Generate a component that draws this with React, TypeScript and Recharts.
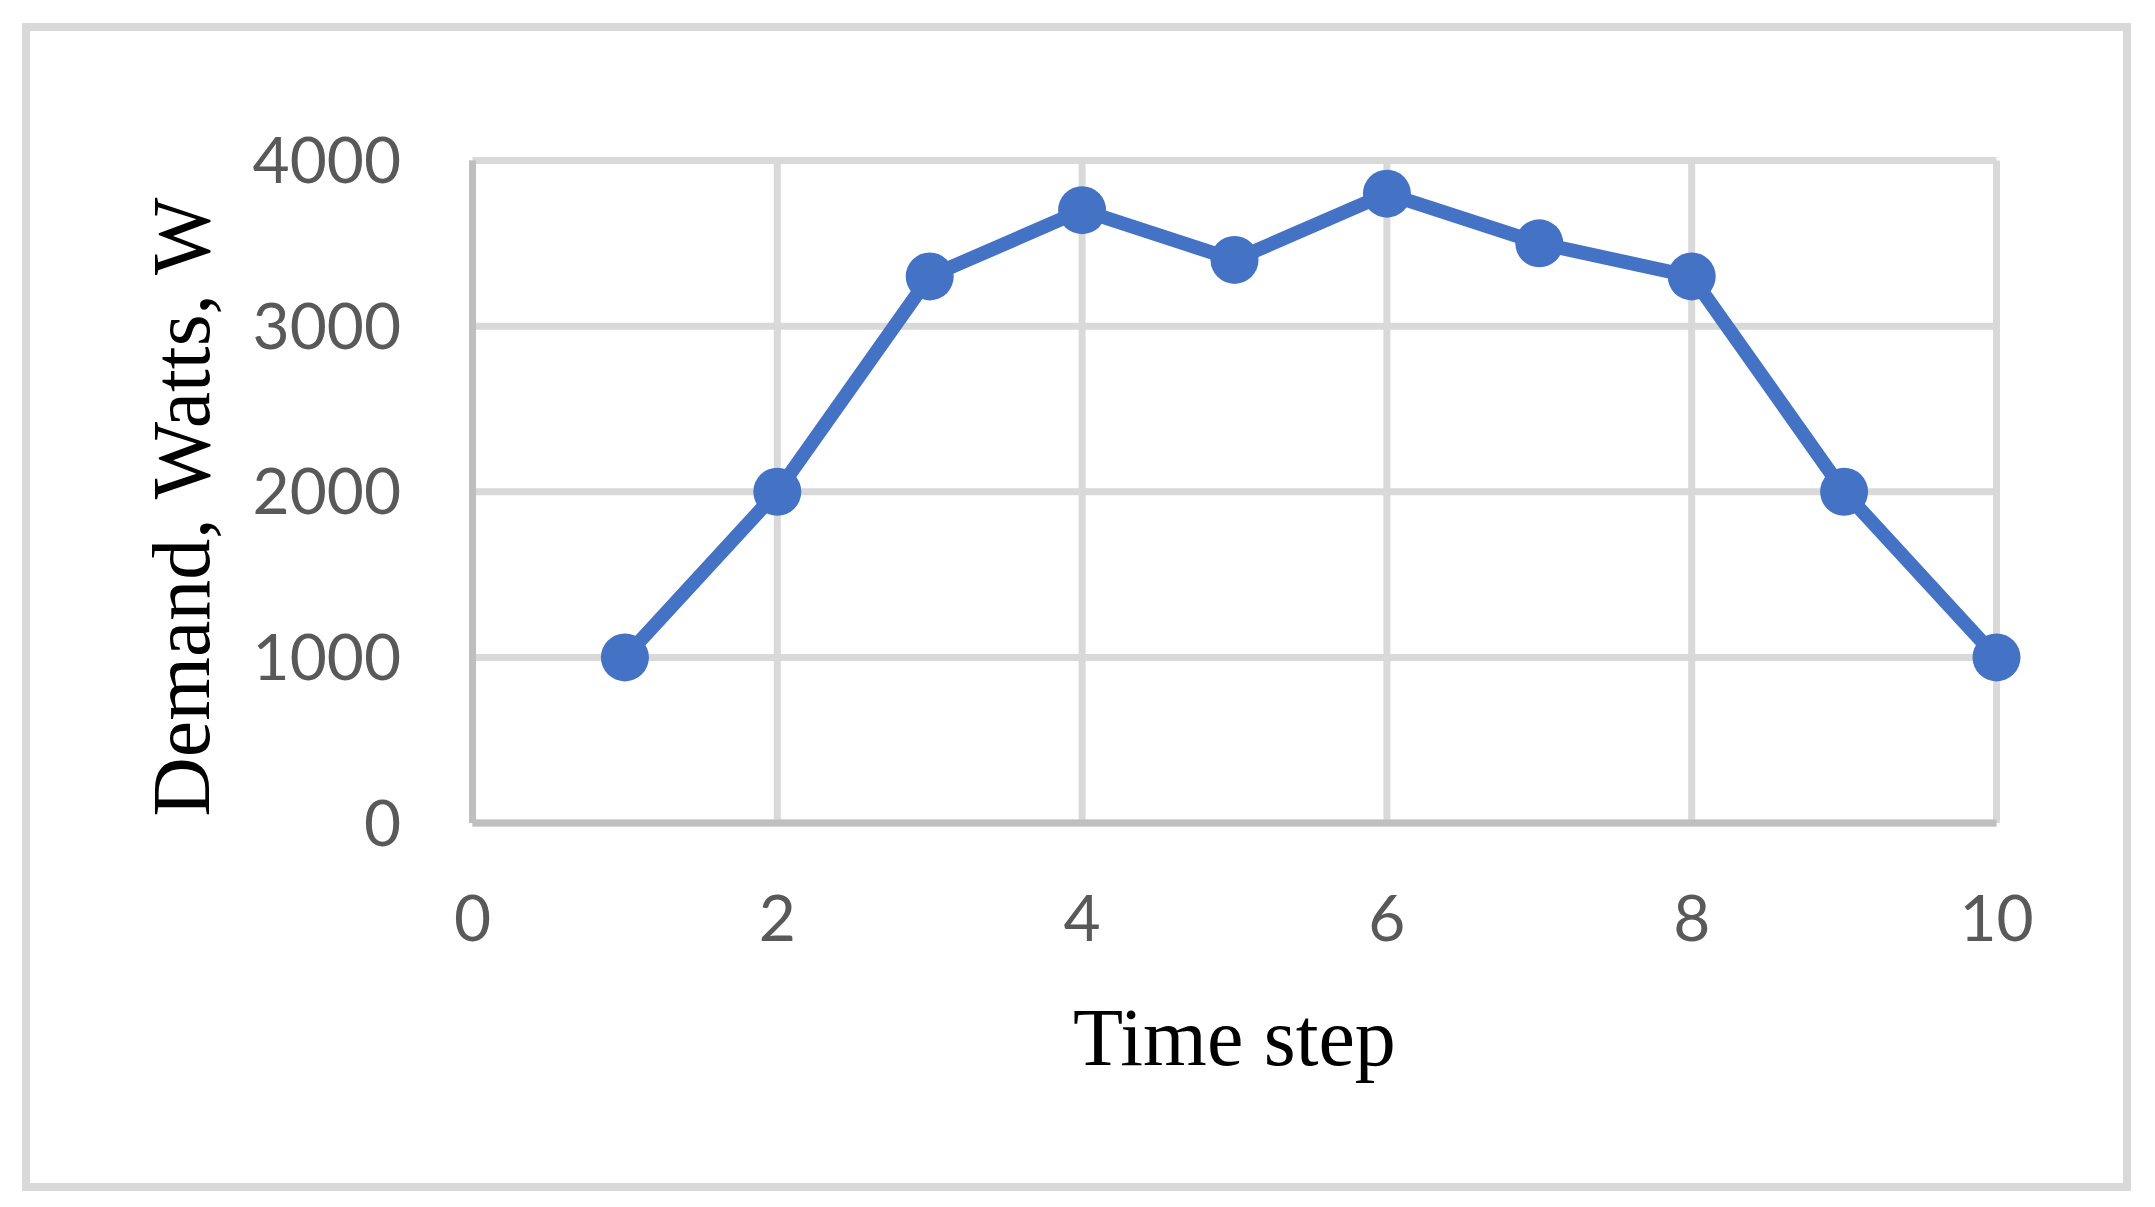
import React from "react";
import { LineChart, Line, XAxis, YAxis, CartesianGrid, Label } from "recharts";

const timeSteps = [1, 2, 3, 4, 5, 6, 7, 8, 9, 10];
const demand = [1000, 2000, 3300, 3700, 3400, 3800, 3500, 3300, 2000, 1000];
const xTicks = [0, 2, 4, 6, 8, 10];
const yTicks = [0, 1000, 2000, 3000, 4000];

const data = timeSteps.map((t, i) => ({ t, demand: demand[i] }));

const tickStyle = { fontFamily: "Lato", fontSize: 64, fill: "#595959" };
const titleFont = "'Liberation Serif', 'Times New Roman', serif";

export default function App() {
  return (
    <div style={{ position: "absolute", left: 0, top: 0, width: 2155, height: 1207, background: "#fff" }}>
      <div
        style={{
          position: "absolute",
          left: 22,
          top: 23,
          width: 2109,
          height: 1168,
          border: "8px solid #d9d9d9",
          boxSizing: "border-box",
        }}
      />
      <LineChart
        width={2155}
        height={1207}
        data={data}
        style={{ position: "absolute", left: 0, top: 0 }}
        margin={{ top: 160.5, right: 158.5, left: 372.5, bottom: 284 }}
      >
        <CartesianGrid stroke="#d9d9d9" strokeWidth={7} />
        <XAxis
          type="number"
          dataKey="t"
          domain={[0, 10]}
          ticks={xTicks}
          height={100}
          tickLine={false}
          tickSize={0}
          tickMargin={73}
          axisLine={{ stroke: "#bfbfbf", strokeWidth: 7 }}
          tick={tickStyle}
        >
          <Label
            content={() => (
              <text x={1234.5} y={1065} textAnchor="middle" fontFamily={titleFont} fontSize={82} fill="#000">
                Time step
              </text>
            )}
          />
        </XAxis>
        <YAxis
          type="number"
          domain={[0, 4000]}
          ticks={yTicks}
          width={100}
          tickLine={false}
          tickSize={0}
          tickMargin={71.5}
          axisLine={{ stroke: "#bfbfbf", strokeWidth: 7 }}
          tick={tickStyle}
        >
          <Label
            content={() => (
              <text
                x={209}
                y={507}
                transform="rotate(-90, 209, 507)"
                textAnchor="middle"
                fontFamily={titleFont}
                fontSize={82}
                fill="#000"
              >
                Demand, Watts, W
              </text>
            )}
          />
        </YAxis>
        <Line
          type="linear"
          dataKey="demand"
          stroke="#4472C4"
          strokeWidth={14}
          dot={{ r: 24, fill: "#4472C4", stroke: "none" }}
          activeDot={false}
          isAnimationActive={false}
        />
      </LineChart>
    </div>
  );
}
